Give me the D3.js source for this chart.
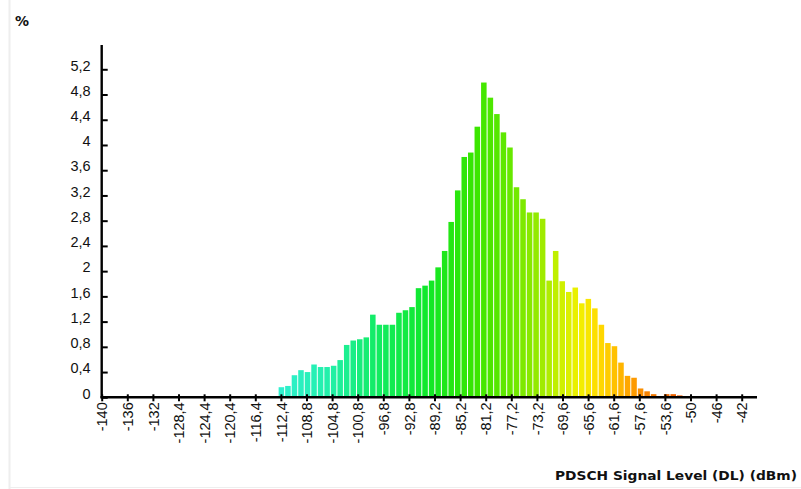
<!DOCTYPE html>
<html>
<head>
<meta charset="utf-8">
<script src="https://cdn.jsdelivr.net/npm/d3@7"></script>
<style>
  html, body { margin: 0; padding: 0; background: #ffffff; }
  svg { display: block; }
</style>
</head>
<body>
<svg id="chart" width="801" height="489"></svg>
<script>
// Histogram of PDSCH signal level, 1 dBm bins
const binStart = -113;   // lower edge of the first bin (dBm)
const binWidth = 1;      // dBm per bin
const shares = [
  0.16, 0.18, 0.35, 0.43, 0.40, 0.52, 0.48, 0.48, 0.50, 0.59,
  0.83, 0.90, 0.92, 0.95, 1.31, 1.15, 1.15, 1.15, 1.34, 1.38,
  1.43, 1.73, 1.77, 1.85, 2.06, 2.32, 2.78, 3.28, 3.81, 3.88,
  4.29, 4.99, 4.75, 4.49, 4.20, 3.96, 3.33, 3.14, 2.93, 2.93,
  2.83, 1.85, 2.32, 1.84, 1.67, 1.74, 1.49, 1.56, 1.41, 1.15,
  0.86, 0.81, 0.55, 0.34, 0.31, 0.14, 0.095, 0.05, 0.0, 0.05,
  0.05, 0.03
];

const xTickLabels = [
  "-140", "-136", "-132", "-128,4", "-124,4", "-120,4", "-116,4", "-112,4",
  "-108,8", "-104,8", "-100,8", "-96,8", "-92,8", "-89,2", "-85,2", "-81,2",
  "-77,2", "-73,2", "-69,6", "-65,6", "-61,6", "-57,6", "-53,6", "-50", "-46", "-42"
];
const xMin = -140, xMax = -42;
const yTicks = [0, 0.4, 0.8, 1.2, 1.6, 2, 2.4, 2.8, 3.2, 3.6, 4, 4.4, 4.8, 5.2];

const yTitle = "%";
const xTitle = "PDSCH Signal Level (DL) (dBm)";

// colour ramp along the signal level
const colorStops = [-113, -105, -98, -90, -83, -78, -73, -70, -67, -64, -61, -59, -57, -54, -51];
const colorValues = ["#30f0d0", "#22f0a8", "#12ec64", "#10e828", "#38e600", "#62e800",
                     "#98ea00", "#c8f000", "#f0f000", "#ffdc00", "#ffbc00", "#ffa000",
                     "#f88800", "#f06c00", "#ee5a00"];

(function draw() {
  const svg = d3.select("#chart");
  const W = 801, H = 489;

  // panel edges
  svg.append("line").attr("x1", 9.5).attr("x2", 9.5).attr("y1", 0).attr("y2", H)
    .attr("stroke", "#eeeeee").attr("stroke-width", 2);
  svg.append("line").attr("x1", 9).attr("x2", W).attr("y1", 487.5).attr("y2", 487.5)
    .attr("stroke", "#eeeeee").attr("stroke-width", 1);

  const plotLeft = 101.7, plotRight = 757, plotBottom = 397.3, plotTop = 45;
  const pxPerUnit = 640 / (xMax - xMin);
  const x = d3.scaleLinear()
    .domain([xMin, xMin + (plotRight - plotLeft) / pxPerUnit])
    .range([plotLeft, plotRight]);
  const y = d3.scaleLinear().domain([0, (plotBottom - plotTop) / 63.08]).range([plotBottom, plotTop]);
  const color = d3.scaleLinear().domain(colorStops).range(colorValues);

  const bins = shares.map((v, i) => ({
    lo: binStart + i * binWidth,
    hi: binStart + (i + 1) * binWidth,
    v
  }));

  // bars
  svg.append("g").selectAll("rect")
    .data(bins.filter(d => d.v > 0))
    .join("rect")
    .attr("x", d => x(d.lo) + 0.6)
    .attr("width", d => x(d.hi) - x(d.lo) - 1)
    .attr("y", d => y(d.v))
    .attr("height", d => y(0) - y(d.v))
    .attr("fill", d => color((d.lo + d.hi) / 2));

  const fmt = v => String(+v.toFixed(1)).replace(".", ",");
  const labelFont = "'Liberation Sans', Arial, sans-serif";

  // y axis
  const yAxis = svg.append("g")
    .attr("transform", `translate(${plotLeft},0)`)
    .call(d3.axisLeft(y).tickValues(yTicks).tickFormat(fmt)
      .tickSizeInner(-6).tickSizeOuter(0).tickPadding(11));
  yAxis.select(".domain").remove();
  yAxis.selectAll(".tick line").attr("stroke", "#000").attr("stroke-width", 2);
  yAxis.selectAll(".tick text")
    .attr("dy", "0.05em")
    .attr("fill", "#111")
    .style("font-family", labelFont)
    .style("font-size", "14.5px");
  svg.append("line")
    .attr("x1", plotLeft).attr("x2", plotLeft).attr("y1", plotTop).attr("y2", plotBottom + 1)
    .attr("stroke", "#000").attr("stroke-width", 2.4);

  // x axis
  const xTickValues = xTickLabels.map((_, i) => xMin + i * (xMax - xMin) / (xTickLabels.length - 1));
  const xAxis = svg.append("g")
    .attr("transform", `translate(0,${plotBottom})`)
    .call(d3.axisBottom(x).tickValues(xTickValues)
      .tickFormat((d, i) => xTickLabels[i])
      .tickSizeInner(4).tickSizeOuter(0).tickPadding(0));
  xAxis.select(".domain").remove();
  xAxis.selectAll(".tick line").attr("y1", -3).attr("y2", 4)
    .attr("stroke", "#000").attr("stroke-width", 2);
  xAxis.selectAll(".tick text")
    .attr("transform", "rotate(-90)")
    .attr("x", -5).attr("y", 0).attr("dy", "0.36em")
    .attr("text-anchor", "end")
    .attr("fill", "#111")
    .style("font-family", labelFont)
    .style("font-size", "14.5px");
  svg.append("line")
    .attr("x1", plotLeft - 1.2).attr("x2", plotRight).attr("y1", plotBottom).attr("y2", plotBottom)
    .attr("stroke", "#000").attr("stroke-width", 2.4);

  // titles
  svg.append("text")
    .attr("x", 15).attr("y", 25.5)
    .attr("fill", "#111")
    .style("font-family", "'DejaVu Sans', Verdana, sans-serif")
    .style("font-weight", "bold")
    .style("font-size", "14px")
    .text(yTitle);

  svg.append("text")
    .attr("x", 797).attr("y", 479.5)
    .attr("text-anchor", "end")
    .attr("textLength", 242)
    .attr("lengthAdjust", "spacingAndGlyphs")
    .attr("fill", "#111")
    .style("font-family", "'DejaVu Sans', Verdana, sans-serif")
    .style("font-weight", "bold")
    .style("font-size", "12.5px")
    .text(xTitle);
})();
</script>
</body>
</html>
